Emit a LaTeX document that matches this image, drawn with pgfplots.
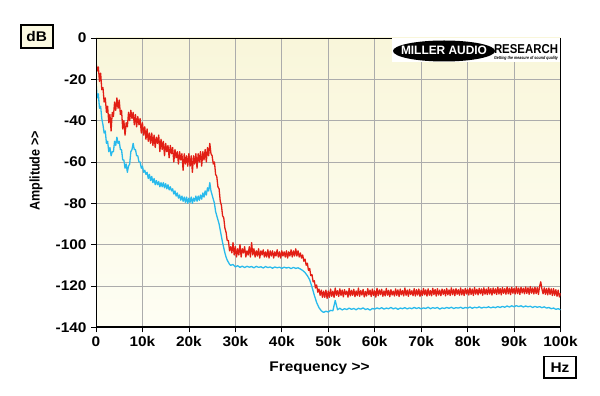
\documentclass[border=0pt]{standalone}
\usepackage{fontspec}
\setmainfont{Liberation Sans}[FakeStretch=1.1]
\newfontfamily\vfont{Liberation Sans}[FakeStretch=0.9]
\usepackage{pgfplots}
\pgfplotsset{compat=1.18}
\usepackage{pgfplotstable}
\definecolor{redc}{RGB}{226,30,20}
\definecolor{bluec}{RGB}{40,186,236}
\definecolor{creamtop}{RGB}{249,246,218}
\definecolor{creambot}{RGB}{254,254,244}
\definecolor{boxcream}{RGB}{252,250,226}
\definecolor{gridc}{RGB}{172,172,172}

\pgfplotstableread{
x y
0 -11.5
0.25 -16
0.5 -14
0.75 -21
1 -17
1.25 -25
1.5 -24
1.75 -31
2 -29
2.25 -36
2.5 -33
2.75 -41
3 -37
3.25 -45
3.5 -36
3.75 -38
4 -31
4.25 -35
4.5 -29
4.75 -34
5 -30
5.25 -37
5.5 -35
5.75 -44
6 -40
6.25 -47
6.5 -41
6.75 -43
7 -36
7.25 -40
7.5 -35
7.75 -39
8 -36
8.25 -42
8.5 -37
8.75 -43
9 -38
9.25 -42
9.5 -39
9.75 -46
10 -41
10.25 -47
10.5 -43
10.75 -49
11 -44
11.25 -50
11.5 -46
11.75 -51
12 -46
12.25 -52
12.5 -47
12.75 -53
13 -48
13.25 -51
13.5 -47
13.75 -55
14 -49
14.25 -54
14.5 -50
14.75 -57
15 -51
15.25 -55
15.5 -52
15.75 -58
16 -52
16.25 -56
16.5 -53
16.75 -60
17 -54
17.25 -58
17.5 -55
17.75 -61
18 -55
18.25 -59
18.5 -56
18.75 -64
19 -56
19.25 -61
19.5 -57
19.75 -62
20 -56
20.25 -62
20.5 -57
20.75 -65
21 -57
21.25 -61
21.5 -56
21.75 -63
22 -56
22.25 -60
22.5 -55
22.75 -62
23 -55
23.25 -59
23.5 -54
23.75 -60
24 -53
24.25 -57
24.5 -51
24.75 -56
25 -57
25.25 -61
25.5 -60
25.75 -66
26 -67
26.25 -72
26.5 -73
26.75 -79
27 -81
27.25 -86
27.5 -87
27.75 -92
28 -94
28.25 -98
28.5 -98
28.75 -103
29 -101
29.25 -104
29.5 -99
29.75 -105
30 -101
30.25 -106
30.5 -102
30.75 -105
31 -100
31.25 -106
31.5 -102
31.75 -104
32 -101
32.25 -106
32.5 -103
32.75 -105
33 -101
33.25 -106
33.5 -99
33.75 -105
34 -102
34.25 -106
34.5 -103
34.75 -105.5
35 -102
35.25 -106.5
35.5 -103
35.75 -105
36 -102.5
36.25 -106
36.5 -103.5
36.75 -106
37 -102.5
37.25 -106.5
37.5 -103
37.75 -105.5
38 -103
38.25 -106.5
38.5 -103.5
38.75 -105.5
39 -102.5
39.25 -106
39.5 -103.5
39.75 -106.5
40 -103
40.25 -105.5
40.5 -103.5
40.75 -106
41 -103
41.25 -106.5
41.5 -103.5
41.75 -105.5
42 -102.5
42.25 -106
42.5 -103
42.75 -105.5
43 -102
43.25 -105.5
43.5 -103
43.75 -106
44 -104
44.25 -106.5
44.5 -105
44.75 -108
45 -107
45.25 -110
45.5 -109
45.75 -112.5
46 -111.5
46.25 -115
46.5 -114.5
46.75 -118
47 -117.5
47.25 -121
47.5 -119.5
47.75 -123
48 -121.5
48.25 -124.5
48.5 -122
48.75 -125.5
49 -122.5
49.25 -125.5
49.5 -122
49.75 -126
50 -122.5
50.25 -125.5
50.5 -121.5
50.75 -125
51 -122.5
51.25 -125.5
51.5 -121
51.75 -124.5
52 -122.3
52.25 -125.1
52.5 -121.4
52.75 -124.6
53 -122.0
53.25 -125.3
53.5 -121.8
53.75 -124.2
54 -122.5
54.25 -125.4
54.5 -121.2
54.75 -124.8
55 -122.1
55.25 -124.5
55.5 -121.6
55.75 -125.2
56 -122.4
56.25 -124.7
56.5 -121.0
56.75 -125.0
57 -122.2
57.25 -124.4
57.5 -121.7
57.75 -125.3
58 -122.6
58.25 -124.9
58.5 -121.3
58.75 -124.3
59 -122.0
59.25 -125.1
59.5 -121.5
59.75 -124.6
60 -122.3
60.25 -125.4
60.5 -121.1
60.75 -124.7
61 -121.9
61.25 -124.2
61.5 -121.6
61.75 -125.0
62 -122.4
62.25 -124.8
62.5 -121.2
62.75 -124.5
63 -122.1
63.25 -125.2
63.5 -121.8
63.75 -124.4
64 -122.5
64.25 -124.9
64.5 -121.4
64.75 -124.6
65 -121.9
65.25 -125.1
65.5 -121.5
65.75 -124.3
66 -122.2
66.25 -124.8
66.5 -121.0
66.75 -124.5
67 -122.0
67.25 -125.0
67.5 -121.6
67.75 -124.2
68 -122.3
68.25 -124.7
68.5 -121.3
68.75 -124.9
69 -121.8
69.25 -124.4
69.5 -121.5
69.75 -125.1
70 -122.1
70.25 -124.6
70.5 -121.2
70.75 -124.3
71 -121.9
71.25 -124.9
71.5 -121.4
71.75 -124.5
72 -122.2
72.25 -124.8
72.5 -121.1
72.75 -124.2
73 -121.7
73.25 -124.9
73.5 -121.3
73.75 -124.4
74 -122.0
74.25 -124.7
74.5 -121.5
74.75 -124.1
75 -121.8
75.25 -124.8
75.5 -121.2
75.75 -124.3
76 -121.9
76.25 -124.6
76.5 -120.9
76.75 -124.2
77 -121.6
77.25 -124.7
77.5 -121.3
77.75 -124.0
78 -121.8
78.25 -124.5
78.5 -121.0
78.75 -124.3
79 -121.7
79.25 -124.6
79.5 -121.2
79.75 -123.9
80 -121.6
80.25 -124.4
80.5 -121.0
80.75 -124.1
81 -121.5
81.25 -124.6
81.5 -120.8
81.75 -124.0
82 -121.6
82.25 -124.3
82.5 -121.1
82.75 -123.8
83 -121.4
83.25 -124.5
83.5 -120.9
83.75 -124.0
84 -121.5
84.25 -124.2
84.5 -120.7
84.75 -123.9
85 -121.3
85.25 -124.4
85.5 -121.0
85.75 -123.7
86 -121.4
86.25 -124.1
86.5 -120.6
86.75 -123.9
87 -121.2
87.25 -124.3
87.5 -120.8
87.75 -123.6
88 -121.3
88.25 -124.0
88.5 -120.5
88.75 -123.8
89 -121.1
89.25 -124.2
89.5 -120.7
89.75 -123.5
90 -121.2
90.25 -123.9
90.5 -120.4
90.75 -123.7
91 -121.0
91.25 -124.1
91.5 -120.6
91.75 -123.4
92 -121.1
92.25 -123.8
92.5 -120.5
92.75 -123.6
93 -120.9
93.25 -124.0
93.5 -120.3
93.75 -123.5
94 -121.0
94.25 -123.9
94.5 -120.6
94.75 -123.7
95 -120.8
95.25 -124.1
95.5 -120.2
95.75 -118.0
96 -121.5
96.25 -123.8
96.5 -120.9
96.75 -124.0
97 -121.2
97.25 -124.3
97.5 -121.0
97.75 -124.1
98 -121.4
98.25 -124.6
98.5 -121.3
98.75 -124.5
99 -121.8
99.25 -125.0
99.5 -122.0
99.75 -125.3
100 -123.5
}\redtable

\pgfplotstableread{
x y
0 -21
0.25 -29
0.5 -27
0.75 -34
1 -33
1.25 -39
1.5 -42
1.75 -46
2 -45
2.25 -51
2.5 -50
2.75 -55
3 -53
3.25 -57
3.5 -55
3.75 -55
4 -50
4.25 -52
4.5 -48
4.75 -51
5 -50
5.25 -54
5.5 -54
5.75 -59
6 -59
6.25 -63
6.5 -61
6.75 -65
7 -62
7.25 -61
7.5 -55
7.75 -54
8 -51
8.25 -54
8.5 -54
8.75 -57
9 -57
9.25 -60
9.5 -60
9.75 -63
10 -62
10.25 -65
10.5 -64
10.75 -66
11 -65
11.25 -68
11.5 -66
11.75 -69
12 -67
12.25 -70
12.5 -68
12.75 -71
13 -69
13.25 -71
13.5 -69.5
13.75 -72
14 -70
14.25 -72
14.5 -70
14.75 -72.5
15 -70.5
15.25 -73
15.5 -71
15.75 -73.5
16 -72
16.25 -74
16.5 -73
16.75 -75.5
17 -74
17.25 -76.5
17.5 -75
17.75 -77.5
18 -76
18.25 -78.5
18.5 -76.5
18.75 -79
19 -77
19.25 -79.5
19.5 -77
19.75 -80
20 -77.5
20.25 -79.5
20.5 -77
20.75 -80
21 -77.5
21.25 -79
21.5 -76.5
21.75 -79
22 -76.5
22.25 -78.5
22.5 -76
22.75 -78
23 -75
23.25 -77
23.5 -74
23.75 -76
24 -72.5
24.25 -74
24.5 -70
24.75 -74
25 -76
25.25 -78
25.5 -80
25.75 -84
26 -86
26.25 -88
26.5 -90
26.75 -93
27 -96
27.25 -99
27.5 -101.5
27.75 -104
28 -106
28.25 -107.5
28.5 -108.5
28.75 -109.5
29 -110
29.5 -109.6
30 -110.8
30.5 -110.2
31 -111
31.5 -110.4
32 -111.1
32.5 -110.5
33 -110.9
33.5 -110.6
34 -111.2
34.5 -110.5
35 -111
35.5 -110.7
36 -111.3
36.5 -110.6
37 -111.1
37.5 -110.8
38 -111.4
38.5 -110.8
39 -111.2
39.5 -110.9
40 -111.5
40.5 -110.9
41 -111.3
41.5 -111
42 -111.6
42.5 -111
43 -111.5
43.5 -111.2
44 -111.8
44.5 -112.5
45 -113.5
45.5 -115
46 -117
46.5 -120.5
47 -124.5
47.5 -128
48 -130.5
48.5 -132
49 -132.8
49.5 -132.2
50 -132.6
50.5 -131.8
51 -132
51.5 -127
52 -131.5
52.5 -130.8
53 -131.6
53.5 -131
54 -131.4
54.5 -130.7
55 -131.3
55.5 -130.9
56 -131.5
56.5 -130.8
57 -131.2
57.5 -130.6
58 -131.4
58.5 -131
59 -131.7
59.5 -130.9
60 -131.2
60.5 -130.6
61 -131.1
61.5 -130.5
62 -131.2
62.5 -130.7
63 -131
63.5 -130.4
64 -131.1
64.5 -130.6
65 -131.3
65.5 -130.7
66 -131
66.5 -130.5
67 -131.1
67.5 -130.6
68 -131
68.5 -130.4
69 -130.9
69.5 -130.5
70 -131.1
70.5 -130.6
71 -130.9
71.5 -130.3
72 -131
72.5 -130.5
73 -130.8
73.5 -130.4
74 -131.2
74.5 -130.6
75 -130.9
75.5 -130.4
76 -130.8
76.5 -130.3
77 -130.9
77.5 -130.5
78 -130.7
78.5 -130.3
79 -130.9
79.5 -130.4
80 -130.7
80.5 -130.2
81 -130.8
81.5 -130.3
82 -130.6
82.5 -130.1
83 -130.7
83.5 -130.3
84 -130.5
84.5 -130.1
85 -130.6
85.5 -130.2
86 -130.5
86.5 -130
87 -130.4
87.5 -129.9
88 -130.3
88.5 -129.7
89 -130.2
89.5 -129.6
90 -130.1
90.5 -129.5
91 -130
91.5 -129.6
92 -130.2
92.5 -129.7
93 -130.1
93.5 -129.8
94 -130.4
94.5 -129.9
95 -130.3
95.5 -130
96 -130.5
96.5 -130.1
97 -130.7
97.5 -130.4
98 -131
98.5 -130.7
99 -131.3
99.5 -131
100 -131.5
}\bluetable

\begin{document}
\begin{tikzpicture}
\begin{axis}[
  at={(96pt,68.7pt)}, anchor=south west,
  scale only axis, width=464.5pt, height=289.3pt,
  xmin=0, xmax=100, ymin=-140, ymax=0,
  xtick={0,10,...,100},
  xticklabels={0,10k,20k,30k,40k,50k,60k,70k,80k,90k,100k},
  ytick={-140,-120,...,0},
  yticklabels={-140,-120,-100,-80,-60,-40,-20,0},
  tick align=outside, major tick length=5pt,
  tick style={black, line width=0.8pt},
  xtick pos=bottom, ytick pos=left,
  grid=major, grid style={gridc, line width=0.8pt},
  axis line style={black, line width=0.9pt},
  axis background/.style={top color=creamtop, bottom color=creambot},
  ticklabel style={font=\bfseries\fontsize{14}{14}\selectfont},
  yticklabel style={xshift=-1pt},
  xticklabel style={yshift=-1pt},
  clip=true,
]
\addplot[redc, line width=1.3pt, line join=round] table[x=x,y=y] {\redtable};
\addplot[bluec, line width=1.3pt, line join=round] table[x=x,y=y] {\bluetable};
\draw[black, line width=2.4pt] (rel axis cs:0,1) -- (rel axis cs:0,0) -- (rel axis cs:1,0);
\end{axis}
% logo
\fill[white] (392pt,334pt) rectangle (560pt,357.5pt);
\fill[black] (444pt,345pt) ellipse [x radius=51pt, y radius=10.5pt];
\node[white, inner sep=0pt] at (444pt,345.5pt) {\resizebox{86pt}{8.5pt}{\bfseries MILLER AUDIO}};
\node[black, inner sep=0pt] at (526pt,346.5pt) {\resizebox{64pt}{9pt}{\bfseries RESEARCH}};
\node[black, inner sep=0pt] at (526pt,337.5pt) {\resizebox{64pt}{3.2pt}{\bfseries\itshape Getting the measure of sound quality}};
% dB box
\draw[black, line width=1.6pt, fill=boxcream] (20.7pt,347.7pt) rectangle (52.7pt,371pt);
\node[inner sep=0pt] at (36.7pt,359.3pt) {\bfseries\fontsize{14}{14}\selectfont dB};
% Hz box
\draw[black, line width=1.6pt, fill=white] (544pt,17.7pt) rectangle (576pt,39.3pt);
\node[inner sep=0pt] at (560pt,28.5pt) {\bfseries\fontsize{14}{14}\selectfont Hz};
% axis labels
\node[inner sep=0pt, rotate=90] at (36pt,225pt) {\vfont\bfseries\fontsize{14}{14}\selectfont Amplitude \mbox{>}\mbox{>}};
\node[inner sep=0pt, anchor=base] at (319.5pt,24.3pt) {\bfseries\fontsize{14}{14}\selectfont Frequency \mbox{>}\mbox{>}};
\pgfresetboundingbox
\useasboundingbox (0pt,0pt) rectangle (600pt,396pt);
\end{tikzpicture}
\end{document}
